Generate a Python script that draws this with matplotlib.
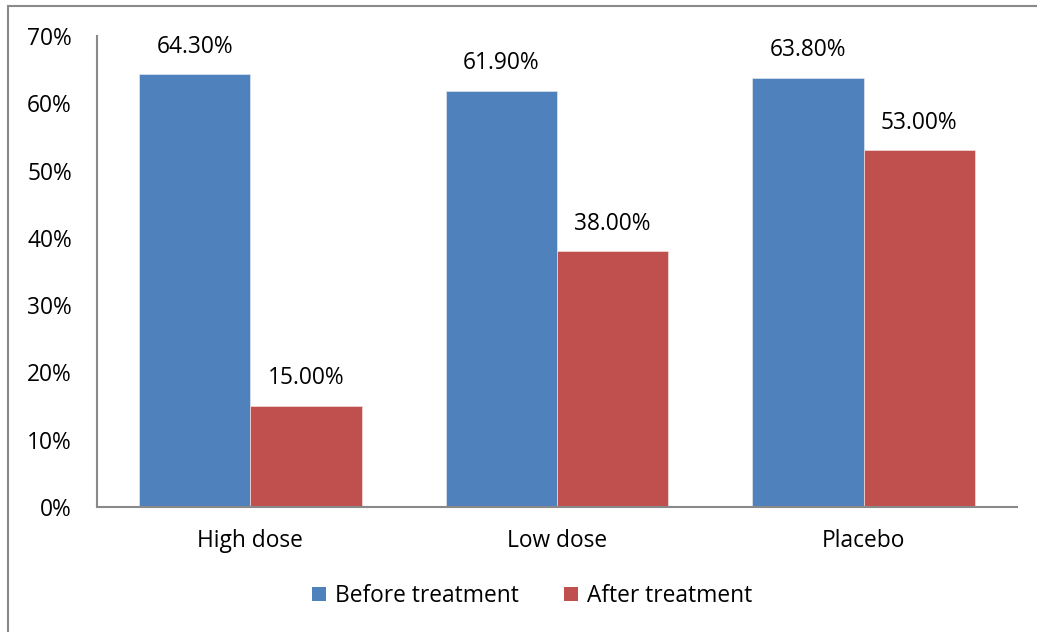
import matplotlib
matplotlib.use("Agg")
import matplotlib.pyplot as plt
import numpy as np
from matplotlib.patches import Rectangle, Patch
from matplotlib.ticker import PercentFormatter

categories = ["High dose", "Low dose", "Placebo"]
before = [64.3, 61.9, 63.8]
after = [15.0, 38.0, 53.0]
series_names = ["Before treatment", "After treatment"]
yticks = [0, 10, 20, 30, 40, 50, 60, 70]

plt.rcParams['font.family'] = ['Open Sans', 'DejaVu Sans']
FS = 16.4

fig = plt.figure(figsize=(10.37, 6.32), dpi=100)
ax = fig.add_axes([97/1037, 1 - 507/632, (1017-97)/1037, (507-36)/632])

blue = "#4F81BD"
red = "#C0504D"
x = np.arange(len(categories))
w = 0.363
b1 = ax.bar(x - w/2, before, w, color=blue, edgecolor="#dfe6f0", linewidth=0.5)
b2 = ax.bar(x + w/2, after, w, color=red, edgecolor="#f0dede", linewidth=0.5)

for bars, vals in ((b1, before), (b2, after)):
    for r, v in zip(bars, vals):
        ax.annotate(f"{v:.2f}%", (r.get_x() + r.get_width()/2, v),
                    xytext=(0, 20), textcoords="offset points",
                    ha="center", va="center", fontsize=FS, color="#000000")

ax.set_xlim(-0.5, 2.5)
ax.set_ylim(0, 70)
ax.set_yticks(yticks)
ax.yaxis.set_major_formatter(PercentFormatter(decimals=0))
ax.set_xticks(x)
ax.set_xticklabels(categories)
ax.tick_params(axis='both', length=0, labelsize=FS, colors="#000000")
ax.tick_params(axis='y', pad=18)
ax.tick_params(axis='x', pad=15.5)
for s in ("top", "right"):
    ax.spines[s].set_visible(False)
for s in ("left", "bottom"):
    ax.spines[s].set_color("#898989")
    ax.spines[s].set_linewidth(1.5)

handles = [Patch(facecolor=blue, label=series_names[0]),
           Patch(facecolor=red, label=series_names[1])]
fig.legend(handles=handles, loc="center", bbox_to_anchor=(532/1037, 1 - 596/632),
           ncol=2, frameon=False, fontsize=FS, handlelength=0.6, handleheight=0.6,
           handletextpad=0.4, columnspacing=2.0)

border = Rectangle((8/1037, -0.05), 1.1, 1 - 6/632 + 0.05, transform=fig.transFigure,
                   fill=False, edgecolor="#898989", linewidth=1.5, clip_on=False)
fig.patches.append(border)

fig.savefig("out.png", dpi=100)
